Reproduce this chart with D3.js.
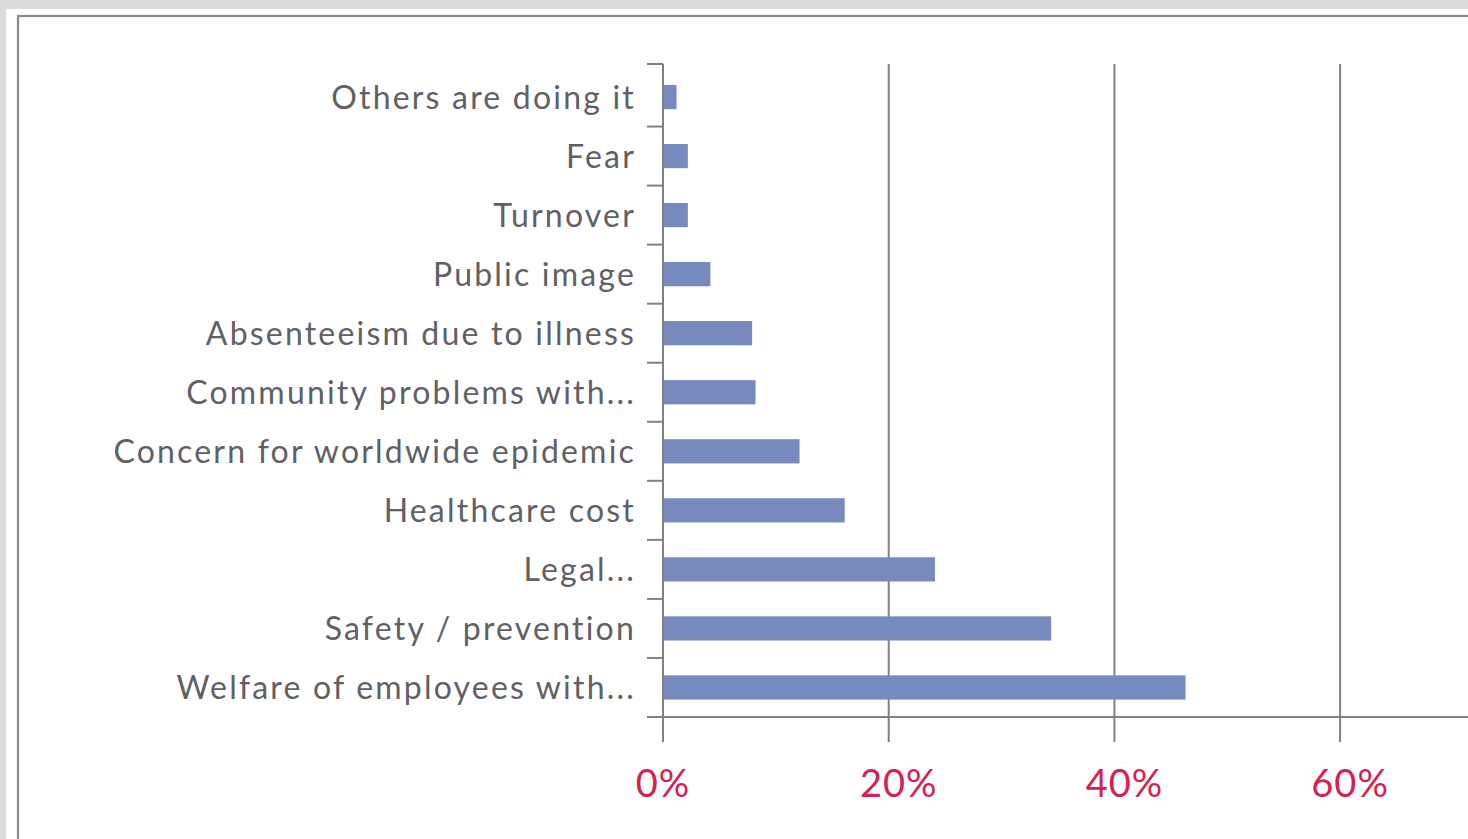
<!DOCTYPE html>
<html>
<head>
<meta charset="utf-8">
<script src="https://cdn.jsdelivr.net/npm/d3@7"></script>
<style>
  html, body { margin: 0; padding: 0; background: #dcdcdc; overflow: hidden; }
  svg { display: block; }
</style>
</head>
<body>
<svg id="chart" width="1468" height="839"></svg>
<script>
// Reasons given for having a workplace HIV/AIDS policy (share of respondents)
const categories = [
  "Others are doing it",
  "Fear",
  "Turnover",
  "Public image",
  "Absenteeism due to illness",
  "Community problems with...",
  "Concern for worldwide epidemic",
  "Healthcare cost",
  "Legal...",
  "Safety / prevention",
  "Welfare of employees with..."
];
const values = [1.2, 2.2, 2.2, 4.2, 7.9, 8.2, 12.1, 16.1, 24.1, 34.4, 46.3];
const tickValues = [0, 20, 40, 60];
const tickLabels = ["0%", "20%", "40%", "60%"];

const svg = d3.select("#chart");

// page frame: white card with a grey rule along its top and left
svg.append("rect").attr("x", 6).attr("y", 9).attr("width", 1462).attr("height", 830).attr("fill", "#ffffff");
svg.append("rect").attr("x", 18).attr("y", 16).attr("width", 1460).attr("height", 830)
  .attr("fill", "#ffffff").attr("stroke", "#8a8c8c").attr("stroke-width", 2.2);

const plotLeft = 663, axisTop = 64, bandTop = 67.5, plotBottom = 717;
const x = d3.scaleLinear().domain([0, 20]).range([plotLeft, plotLeft + 225.7]);
const band = d3.scaleBand().domain(categories).range([bandTop, plotBottom]);
const y = d3.scaleBand().domain(categories).range([bandTop, plotBottom]).paddingInner(0.59).paddingOuter(0.295);

const axisColor = "#808080";
const g = svg.append("g");

// vertical gridlines at the percentage ticks (extend below the baseline as tick marks)
g.selectAll("line.grid").data(tickValues).join("line")
  .attr("class", "grid")
  .attr("x1", d => x(d)).attr("x2", d => x(d))
  .attr("y1", axisTop).attr("y2", plotBottom + 25)
  .attr("stroke", axisColor).attr("stroke-width", 2);

// category boundary ticks on the left of the axis
const bounds = [axisTop].concat(categories.slice(1).map(c => band(c)), [plotBottom]);
g.selectAll("line.ctick").data(bounds).join("line")
  .attr("class", "ctick")
  .attr("x1", plotLeft - 16).attr("x2", plotLeft)
  .attr("y1", d => d).attr("y2", d => d)
  .attr("stroke", axisColor).attr("stroke-width", 2);

// baseline
g.append("line").attr("x1", plotLeft - 16).attr("x2", 1468).attr("y1", plotBottom).attr("y2", plotBottom)
  .attr("stroke", axisColor).attr("stroke-width", 2);

// bars
g.selectAll("rect.bar").data(categories).join("rect")
  .attr("class", "bar")
  .attr("x", x(0) + 1)
  .attr("y", d => y(d))
  .attr("width", (d, i) => x(values[i]) - x(0) - 1)
  .attr("height", y.bandwidth())
  .attr("fill", "#768abd");

// category labels
g.selectAll("text.cat").data(categories).join("text")
  .attr("class", "cat")
  .attr("x", plotLeft - 27)
  .attr("y", d => band(d) + band.bandwidth() / 2)
  .attr("dy", "0.36em")
  .attr("text-anchor", "end")
  .attr("font-family", "Lato, 'Open Sans', sans-serif")
  .attr("font-size", 32)
  .attr("letter-spacing", 2.2)
  .attr("fill", "#606065")
  .text(d => d);

// percentage tick labels
g.selectAll("text.tick").data(tickValues).join("text")
  .attr("class", "tick")
  .attr("x", (d, i) => x(d) + (i === 0 ? 0 : 10))
  .attr("y", 797)
  .attr("text-anchor", "middle")
  .attr("font-family", "Lato, 'Open Sans', sans-serif")
  .attr("font-size", 38)
  .attr("letter-spacing", 1)
  .attr("fill", "#d6204f")
  .text((d, i) => tickLabels[i]);
</script>
</body>
</html>
